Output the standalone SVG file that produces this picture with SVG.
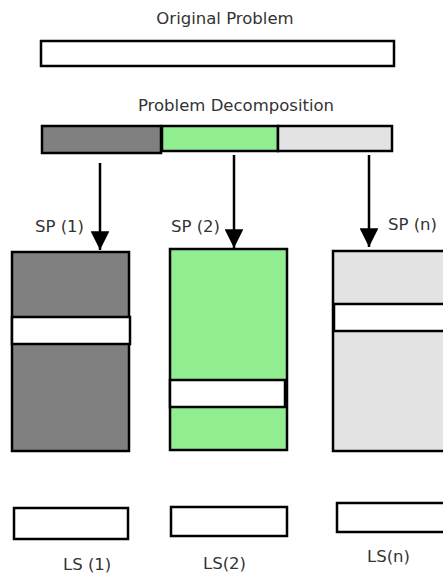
<svg xmlns="http://www.w3.org/2000/svg" width="443" height="576" viewBox="0 0 443 576">
<style>
text{font-family:"DejaVu Sans","Liberation Sans",sans-serif;font-size:16.5px;fill:#333}
.b{stroke:#000;stroke-width:2.5}
.w{fill:#fff}
.dk{fill:#808080}
.gr{fill:#90ee90}
.lt{fill:#e3e3e3}
.ln{stroke:#000;stroke-width:2.5;fill:none}
</style>
<defs>
<marker id="ah" viewBox="0 0 10 10" refX="10" refY="5" markerWidth="7.5" markerHeight="7.5" markerUnits="strokeWidth" orient="auto">
<path d="M0,0 L10,5 L0,10 Z" fill="#000"/>
</marker>
</defs>
<rect width="443" height="576" fill="#fff"/>
<g id="original">
<text x="225" y="24" text-anchor="middle">Original Problem</text>
<rect class="b w" x="41" y="41" width="353" height="25"/>
</g>
<g id="decomposition">
<text x="236" y="111" text-anchor="middle">Problem Decomposition</text>
<rect class="b dk" x="42" y="126" width="119" height="27"/>
<rect class="b gr" x="162" y="126" width="116" height="25"/>
<rect class="b lt" x="278" y="126" width="114" height="25"/>
</g>
<g id="sp1">
<text x="35" y="232">SP (1)</text>
<rect class="b dk" x="12" y="252" width="117" height="199"/>
<rect class="b w" x="12" y="317" width="118" height="27"/>
</g>
<g id="sp2">
<text x="171" y="232">SP (2)</text>
<rect class="b gr" x="170" y="249" width="117" height="201"/>
<rect class="b w" x="170" y="380" width="115" height="27"/>
</g>
<g id="spn">
<text x="388" y="230">SP (n)</text>
<rect class="b lt" x="333" y="251" width="120" height="200"/>
<rect class="b w" x="334" y="304" width="119" height="27"/>
</g>
<g id="ls1">
<rect class="b w" x="14" y="508" width="114" height="31"/>
<text x="63" y="570">LS (1)</text>
</g>
<g id="ls2">
<rect class="b w" x="171" y="507" width="116" height="29"/>
<text x="203" y="569">LS(2)</text>
</g>
<g id="lsn">
<rect class="b w" x="337" y="503" width="116" height="29"/>
<text x="367" y="562">LS(n)</text>
</g>
<g id="connectors">
<line class="ln" x1="100" y1="163" x2="100" y2="250" marker-end="url(#ah)"/>
<line class="ln" x1="234" y1="155" x2="234" y2="248" marker-end="url(#ah)"/>
<line class="ln" x1="369" y1="155" x2="369" y2="247" marker-end="url(#ah)"/>
</g>
</svg>
